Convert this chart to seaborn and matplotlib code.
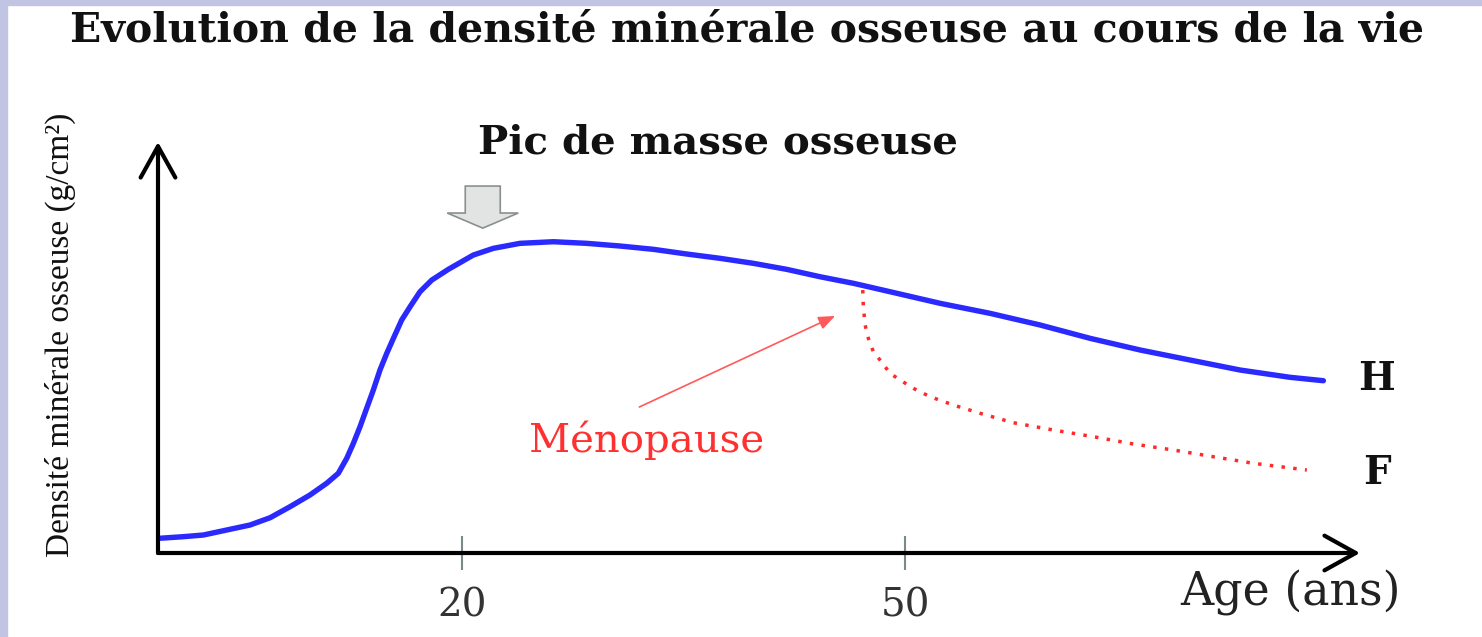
import matplotlib.pyplot as plt
import seaborn as sns
from matplotlib.patches import FancyArrow, Rectangle

# Courbe H (hommes) : age (ans) et densite minerale (unites relatives)
ages_h = [-0.4, 1.12, 2.48, 4.06, 5.64, 7.00, 8.35, 9.70, 10.83, 11.62, 12.19,
          12.64, 13.09, 13.54, 13.99, 14.44, 14.90, 15.35, 15.91, 16.48, 17.15,
          17.95, 19.07, 20.76, 22.12, 23.92, 26.18, 28.44, 30.70, 32.95, 35.21,
          37.47, 39.72, 41.98, 44.24, 46.50, 48.98, 52.37, 55.75, 59.14, 62.52,
          65.91, 69.29, 72.68, 76.07, 78.32]
dens_h = [0.045, 0.0496, 0.0547, 0.0699, 0.0851, 0.1073, 0.1408, 0.1764,
          0.2120, 0.2424, 0.2880, 0.3336, 0.3841, 0.4400, 0.4957, 0.5565,
          0.6073, 0.6529, 0.7086, 0.7490, 0.7946, 0.8302, 0.8627, 0.9062,
          0.9266, 0.9418, 0.9467, 0.9418, 0.9336, 0.9236, 0.9093, 0.8962,
          0.8810, 0.8627, 0.8402, 0.8202, 0.7946, 0.7593, 0.7289, 0.6934,
          0.6529, 0.6174, 0.5869, 0.5565, 0.5343, 0.5240]

# Courbe F (femmes) apres la menopause
ages_f = [47.13, 47.17, 47.29, 47.51, 47.85, 48.30, 48.98, 49.66, 50.56, 51.69,
          53.27, 55.08, 57.33, 60.04, 62.75, 65.46, 68.17, 70.87, 73.58, 77.20]
dens_f = [0.7998, 0.7490, 0.6934, 0.6529, 0.6122, 0.5869, 0.5465, 0.5261,
          0.5009, 0.4753, 0.4501, 0.4248, 0.3962, 0.3740, 0.3537, 0.3315,
          0.3132, 0.2928, 0.2728, 0.2524]

tick_ages = [20, 50]
tick_labels = ["20", "50"]

W, H = 1482, 637


def fx(x):
    return x / W


def fy(y):
    return 1 - y / H


sns.set_style("white")
plt.rcParams["font.family"] = ["DejaVu Serif"]

fig = plt.figure(figsize=(W / 100, H / 100), dpi=100)
fig.patch.set_facecolor("white")
# bandes lavande en haut et a gauche
fig.patches.append(Rectangle((0, 0), fx(7), 1, transform=fig.transFigure,
                             color="#c2c4e4", zorder=0))
fig.patches.append(Rectangle((0, fy(5)), 1, 1 - fy(5), transform=fig.transFigure,
                             color="#c2c4e4", zorder=0))

ax = fig.add_axes([fx(158), fy(553), fx(1360 - 158), (553 - 142) / H])
ax.set_facecolor("none")

sns.lineplot(x=ages_h, y=dens_h, color="#2a2aff", linewidth=3.9, ax=ax)
sns.lineplot(x=ages_f, y=dens_f, color="#ff2a2a", linewidth=2.5,
             linestyle=(0, (1, 2.4)), ax=ax)

ax.set_xlim(-0.59, 80.8)
ax.set_ylim(0, 1.25)
for s in ax.spines.values():
    s.set_visible(False)
ax.set_yticks([])
ax.set_xticks(tick_ages)
ax.set_xticklabels(tick_labels, fontsize=28, color="#333333")
ax.tick_params(axis="x", bottom=True, direction="inout", length=25, width=1.5,
               color="#7a8a8a", pad=12)

# axes fleches
ax.annotate("", xy=(1, 0), xytext=(0, 0), xycoords="axes fraction",
            arrowprops=dict(arrowstyle="->,head_length=0.9,head_width=0.5",
                            lw=3, color="black", mutation_scale=25,
                            shrinkA=0, shrinkB=0))
ax.annotate("", xy=(0, 1), xytext=(0, 0), xycoords="axes fraction",
            arrowprops=dict(arrowstyle="->,head_length=0.9,head_width=0.5",
                            lw=3, color="black", mutation_scale=25,
                            shrinkA=0, shrinkB=0))

# fleche grise "pic"
ax.add_patch(FancyArrow(21.4, 1.116, 0, -0.128, width=2.37, head_width=4.81,
                        head_length=0.046, length_includes_head=True,
                        facecolor="#e2e4e4", edgecolor="#8a8f8f", lw=1.2))

# fleche menopause
ax.annotate("", xy=(45.26, 0.721), xytext=(32.0, 0.444),
            arrowprops=dict(arrowstyle="-|>,head_length=0.5,head_width=0.2",
                            lw=1.2, color="#ff5a5a", mutation_scale=20,
                            shrinkA=0, shrinkB=0))

fig.text(fx(747), fy(41), "Evolution de la densité minérale osseuse au cours de la vie",
         ha="center", va="baseline", fontsize=29.5, fontweight="bold", color="#111111")
fig.text(fx(718), fy(154), "Pic de masse osseuse", ha="center", va="baseline",
         fontsize=29, fontweight="bold", color="#111111")
fig.text(fx(647), fy(452), "Ménopause", ha="center", va="baseline",
         fontsize=29, color="#ff3030")
fig.text(fx(1290), fy(605), "Age (ans)", ha="center", va="baseline",
         fontsize=33, color="#222222")
fig.text(fx(1376), fy(390), "H", ha="center", va="baseline",
         fontsize=28, fontweight="bold", color="#111111")
fig.text(fx(1377), fy(484), "F", ha="center", va="baseline",
         fontsize=28, fontweight="bold", color="#111111")
fig.text(fx(60), fy(335), "Densité minérale osseuse (g/cm²)", ha="center",
         va="center", rotation=90, fontsize=24, family=["Liberation Serif"],
         color="#111111")

fig.savefig("out.png", dpi=100, facecolor=fig.get_facecolor())
